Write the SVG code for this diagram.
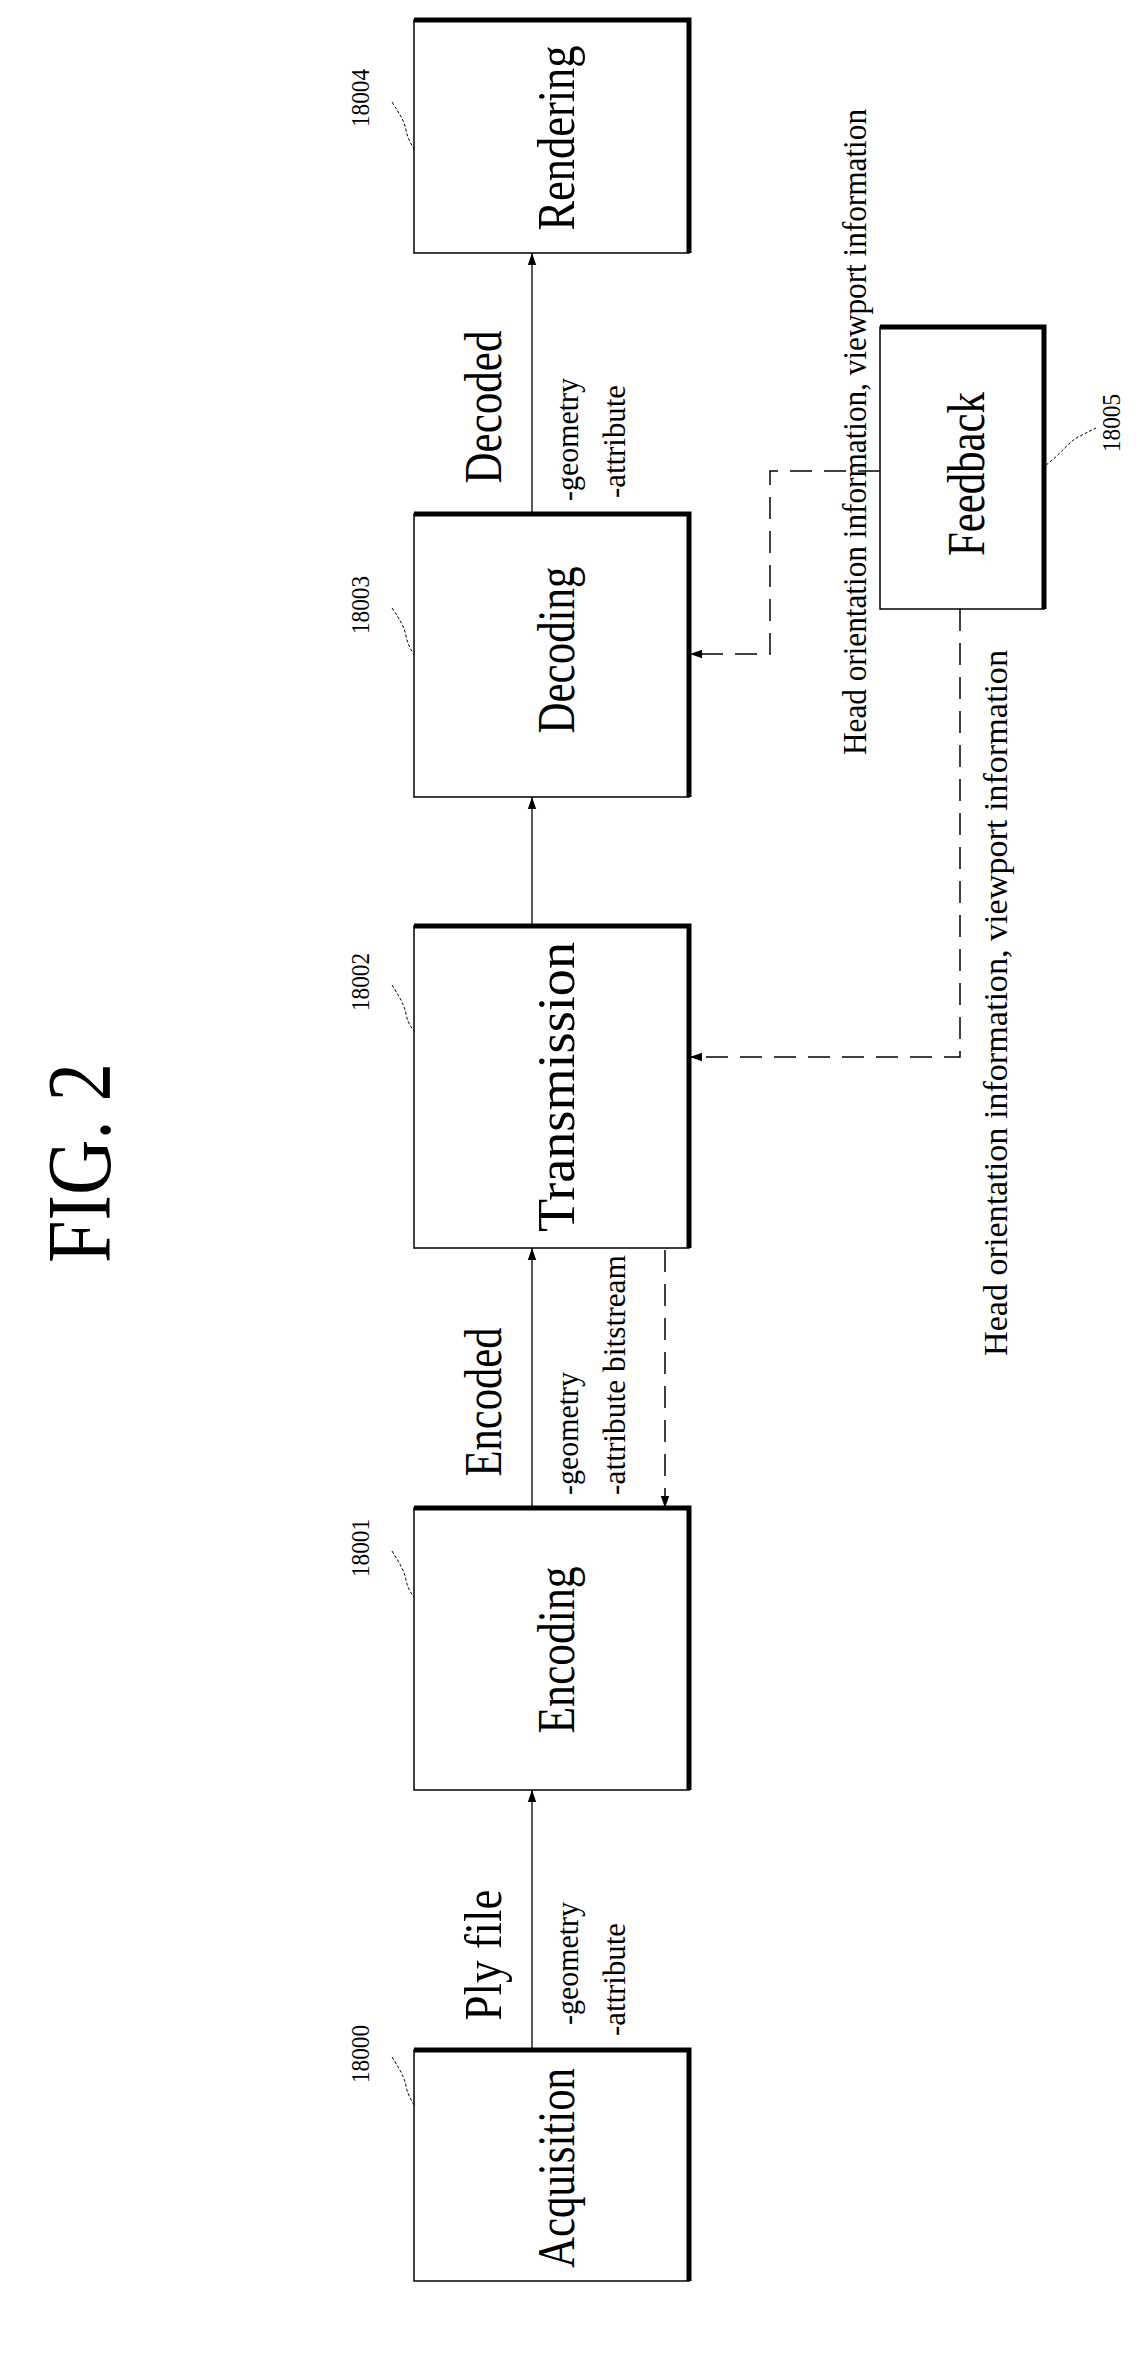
<svg xmlns="http://www.w3.org/2000/svg" width="1139" height="2364" viewBox="0 0 1139 2364">
<style>
text{font-family:"Liberation Serif","Times New Roman",serif;fill:#000;dominant-baseline:central}
.big{font-size:52px;text-anchor:middle}
.sm{font-size:32px;text-anchor:start}
.ref{font-size:25px;text-anchor:middle}
.box{fill:#fff;stroke:#000;stroke-width:1.5}
.thick{fill:none;stroke:#000;stroke-width:5}
.ln{fill:none;stroke:#000;stroke-width:1.3}
.dash{fill:none;stroke:#000;stroke-width:1.5;stroke-dasharray:22,12}
.lead{fill:none;stroke:#000;stroke-width:1;stroke-dasharray:3,2}
</style>
<defs>
<marker id="ah2" viewBox="0 0 10 10" refX="10" refY="5" markerWidth="16" markerHeight="12" markerUnits="userSpaceOnUse" orient="auto"><path d="M0,1.5 L10,5 L0,8.5 z" fill="#000"/></marker>
</defs>
<text x="79" y="1163" transform="rotate(-90 79 1163)" style="font-size:90px;text-anchor:middle" textLength="200" lengthAdjust="spacingAndGlyphs">FIG. 2</text>

<g id="n18004">
<rect class="box" x="414" y="20" width="275" height="233"/>
<path class="thick" d="M414,20 H689 V253"/>
<text class="big" x="556" y="138" transform="rotate(-90 556 138)" textLength="185" lengthAdjust="spacingAndGlyphs">Rendering</text>
<text class="ref" x="360" y="98" transform="rotate(-90 360 98)" textLength="58" lengthAdjust="spacingAndGlyphs">18004</text>
<path class="lead" d="M392,102 C400,115 404,120 406,130 C408,140 412,145 414,149"/>
</g>
<g id="n18003">
<rect class="box" x="414" y="514" width="275" height="283"/>
<path class="thick" d="M414,514 H689 V797"/>
<text class="big" x="556" y="650" transform="rotate(-90 556 650)" textLength="167" lengthAdjust="spacingAndGlyphs">Decoding</text>
<text class="ref" x="360" y="605" transform="rotate(-90 360 605)" textLength="58" lengthAdjust="spacingAndGlyphs">18003</text>
<path class="lead" d="M392,608 C400,620 404,626 406,636 C408,646 412,651 414,655"/>
</g>
<g id="n18002">
<rect class="box" x="414" y="926" width="275" height="322"/>
<path class="thick" d="M414,926 H689 V1248"/>
<text class="big" x="556" y="1087" transform="rotate(-90 556 1087)" textLength="290" lengthAdjust="spacingAndGlyphs">Transmission</text>
<text class="ref" x="360" y="982" transform="rotate(-90 360 982)" textLength="58" lengthAdjust="spacingAndGlyphs">18002</text>
<path class="lead" d="M392,985 C400,998 404,1004 406,1014 C408,1024 412,1028 414,1031"/>
</g>
<g id="n18001">
<rect class="box" x="414" y="1508" width="275" height="282"/>
<path class="thick" d="M414,1508 H689 V1790"/>
<text class="big" x="556" y="1650" transform="rotate(-90 556 1650)" textLength="167" lengthAdjust="spacingAndGlyphs">Encoding</text>
<text class="ref" x="360" y="1548" transform="rotate(-90 360 1548)" textLength="58" lengthAdjust="spacingAndGlyphs">18001</text>
<path class="lead" d="M392,1551 C400,1564 404,1570 406,1580 C408,1590 412,1594 414,1597"/>
</g>
<g id="n18000">
<rect class="box" x="414" y="2050" width="275" height="231"/>
<path class="thick" d="M414,2050 H689 V2281"/>
<text class="big" x="556" y="2168" transform="rotate(-90 556 2168)" textLength="200" lengthAdjust="spacingAndGlyphs">Acquisition</text>
<text class="ref" x="360" y="2054" transform="rotate(-90 360 2054)" textLength="58" lengthAdjust="spacingAndGlyphs">18000</text>
<path class="lead" d="M392,2057 C400,2070 404,2076 406,2086 C408,2096 412,2101 414,2105"/>
</g>
<g id="n18005">
<rect class="box" x="880" y="327" width="164" height="282"/>
<path class="thick" d="M880,327 H1044 V609"/>
<text class="big" x="966" y="474" transform="rotate(-90 966 474)" textLength="164" lengthAdjust="spacingAndGlyphs">Feedback</text>
<text class="ref" x="1111" y="423" transform="rotate(-90 1111 423)" textLength="58" lengthAdjust="spacingAndGlyphs">18005</text>
<path class="lead" d="M1046,465 C1060,455 1070,440 1080,436 C1088,432 1092,430 1096,428"/>
</g>

<g id="connectors">
<line class="ln" x1="532" y1="2050" x2="532" y2="1790" marker-end="url(#ah2)"/>
<line class="ln" x1="532" y1="1508" x2="532" y2="1248" marker-end="url(#ah2)"/>
<line class="ln" x1="532" y1="926" x2="532" y2="797" marker-end="url(#ah2)"/>
<line class="ln" x1="532" y1="514" x2="532" y2="253" marker-end="url(#ah2)"/>
<path class="dash" d="M665,1250 V1508" marker-end="url(#ah2)"/>
<path class="dash" d="M880,471 H770 V654 H690" marker-end="url(#ah2)"/>
<path class="dash" d="M960,609 V1057 H690" marker-end="url(#ah2)"/>
</g>

<g id="labels">
<text class="big" x="483" y="407" transform="rotate(-90 483 407)" textLength="153" lengthAdjust="spacingAndGlyphs">Decoded</text>
<text class="sm" x="567" y="501" transform="rotate(-90 567 501)" textLength="123" lengthAdjust="spacingAndGlyphs">-geometry</text>
<text class="sm" x="614" y="498" transform="rotate(-90 614 498)" textLength="113" lengthAdjust="spacingAndGlyphs">-attribute</text>
<text class="big" x="483" y="1402" transform="rotate(-90 483 1402)" textLength="149" lengthAdjust="spacingAndGlyphs">Encoded</text>
<text class="sm" x="567" y="1495" transform="rotate(-90 567 1495)" textLength="123" lengthAdjust="spacingAndGlyphs">-geometry</text>
<text class="sm" x="614" y="1495" transform="rotate(-90 614 1495)" textLength="240" lengthAdjust="spacingAndGlyphs">-attribute bitstream</text>
<text class="big" x="483" y="1955" transform="rotate(-90 483 1955)" textLength="131" lengthAdjust="spacingAndGlyphs">Ply file</text>
<text class="sm" x="567" y="2025" transform="rotate(-90 567 2025)" textLength="123" lengthAdjust="spacingAndGlyphs">-geometry</text>
<text class="sm" x="614" y="2036" transform="rotate(-90 614 2036)" textLength="113" lengthAdjust="spacingAndGlyphs">-attribute</text>
<text x="854" y="432" transform="rotate(-90 854 432)" style="font-size:34px;text-anchor:middle" textLength="646" lengthAdjust="spacingAndGlyphs">Head orientation information, viewport information</text>
<text x="995" y="1003" transform="rotate(-90 995 1003)" style="font-size:34px;text-anchor:middle" textLength="706" lengthAdjust="spacingAndGlyphs">Head orientation information, viewport information</text>
</g>
</svg>
